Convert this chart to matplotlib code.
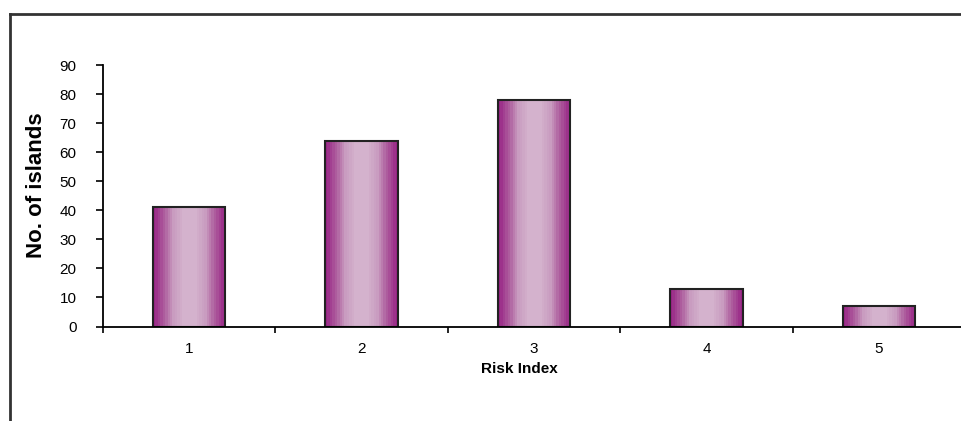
import matplotlib
matplotlib.use('Agg')
import matplotlib.pyplot as plt
import numpy as np
from matplotlib.lines import Line2D
from matplotlib.colors import LinearSegmentedColormap

plt.rcParams['font.family'] = ['Liberation Sans', 'DejaVu Sans']

# data
risk_index = ['1', '2', '3', '4', '5']
islands = [41, 64, 78, 13, 7]

W, H = 961, 421
fig = plt.figure(figsize=(W/100, H/100), dpi=100)
ax = fig.add_axes([103/W, (H-326.5)/H, 862/W, 261.5/H])

# banded magenta gradient for the bars
cmap = LinearSegmentedColormap.from_list('mag', ['#992586', '#ad5c9d', '#c99cc0', '#d4b2cd'])
t = (np.arange(30) + 0.5) / 30
prof = np.clip((1 - np.abs(2*t - 1))**1.2 * 1.3, 0, 1)
grad = np.round(prof*12)/12
grad = grad[np.newaxis, :]

x = np.arange(len(risk_index))
bw = 0.42
bars = ax.bar(x, islands, width=bw, facecolor='none', edgecolor='#222222', linewidth=1.5, zorder=3)
for b in bars:
    x0, y0 = b.get_x(), b.get_y()
    ax.imshow(grad, cmap=cmap, vmin=0, vmax=1, aspect='auto', interpolation='nearest',
              extent=[x0, x0 + b.get_width(), y0, y0 + b.get_height()], zorder=2)

ax.set_xlim(-0.5, len(risk_index) - 0.5)
ax.set_ylim(0, 90)
ax.set_yticks(range(0, 91, 10))
ax.set_xticks(x)
ax.set_xticklabels(risk_index)
ax.set_xticks(np.arange(-0.5, len(risk_index)), minor=True)
ax.tick_params(axis='x', which='major', length=0, pad=11, labelsize=11)
ax.tick_params(axis='x', which='minor', length=4, width=1.2, direction='out')
ax.tick_params(axis='y', length=5, width=1.2, direction='out', labelsize=11, pad=14)

for s in ['top', 'right']:
    ax.spines[s].set_visible(False)
ax.spines['left'].set_linewidth(1.3)
ax.spines['bottom'].set_linewidth(1.3)
ax.spines['bottom'].set_zorder(4)

ax.set_xlabel('Risk Index', fontsize=11, fontweight='bold')
ax.xaxis.set_label_coords((519 - 103)/862, -(369 - 326.5)/261.5)
ax.xaxis.label.set_va('center')
ax.set_ylabel('No. of islands', fontsize=16, fontweight='bold')
ax.yaxis.set_label_coords(-(103 - 37)/862, (326.5 - 185)/261.5)
ax.yaxis.label.set_va('center')

# outer frame (open to the right and bottom)
fig.add_artist(Line2D([10/W, 10/W], [0, 1 - 14/H], transform=fig.transFigure, color='#333333', lw=2))
fig.add_artist(Line2D([10/W, 1], [1 - 14/H, 1 - 14/H], transform=fig.transFigure, color='#333333', lw=2))

fig.savefig('out.png', dpi=100)
